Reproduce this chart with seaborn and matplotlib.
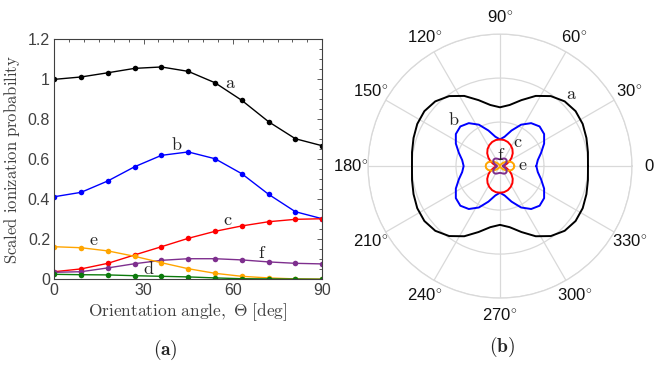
import numpy as np
import pandas as pd
import matplotlib
matplotlib.use("Agg")
import matplotlib.pyplot as plt
import seaborn as sns
from matplotlib.ticker import MultipleLocator, FuncFormatter

# ---------------- data ----------------
theta_deg = [0, 9, 18, 27, 36, 45, 54, 63, 72, 81, 90]
series_names = ["a", "b", "c", "d", "e", "f"]
a_vals = [1.000, 1.012, 1.033, 1.055, 1.062, 1.040, 0.983, 0.895, 0.788, 0.703, 0.668]
b_vals = [0.413, 0.435, 0.492, 0.563, 0.620, 0.637, 0.603, 0.528, 0.425, 0.338, 0.303]
c_vals = [0.038, 0.052, 0.080, 0.122, 0.163, 0.205, 0.240, 0.267, 0.288, 0.300, 0.303]
d_vals = [0.025, 0.023, 0.022, 0.018, 0.015, 0.012, 0.007, 0.003, 0.002, 0.001, 0.000]
e_vals = [0.163, 0.158, 0.142, 0.115, 0.083, 0.053, 0.030, 0.015, 0.007, 0.002, 0.001]
f_vals = [0.035, 0.038, 0.057, 0.078, 0.095, 0.103, 0.103, 0.097, 0.087, 0.080, 0.077]
colors = {"a": "#000000", "b": "#0000ff", "c": "#ff0000", "d": "#0b7a0b",
          "e": "#ffa500", "f": "#7e2f8e"}
y_ticks = [0, 0.2, 0.4, 0.6, 0.8, 1.0, 1.2]
x_ticks = [0, 30, 60, 90]
polar_angles = [0, 30, 60, 90, 120, 150, 180, 210, 240, 270, 300, 330]
polar_rings = [0.5, 1.0, 1.5]
polar_series = ["a", "b", "c", "e", "f"]

values = {"a": a_vals, "b": b_vals, "c": c_vals, "d": d_vals, "e": e_vals, "f": f_vals}

# long table for the Cartesian panel
rows = []
for s in series_names:
    for t, v in zip(theta_deg, values[s]):
        rows.append({"series": s, "theta": t, "p": v})
df = pd.DataFrame(rows)

# polar table: mirror the 0-90 deg data onto the full circle (symmetry)
prow = []
for s in polar_series:
    vals = values[s]
    for k in range(0, 41):
        phi = 9 * k
        m = phi % 180
        idx = (m if m <= 90 else 180 - m) // 9
        prow.append({"series": s, "phi": np.deg2rad(phi), "r": vals[idx]})
dfp = pd.DataFrame(prow)

# ---------------- style ----------------
sns.set_style("white")
plt.rcParams["font.family"] = ["Liberation Sans", "DejaVu Sans"]
plt.rcParams["mathtext.fontset"] = "cm"

fig = plt.figure(figsize=(6.57, 3.68), dpi=100)

# ---------------- panel (a) ----------------
ax = fig.add_axes([0.0826, 0.241, 0.4078, 0.652])
order = ["a", "b", "c", "f", "e", "d"]
sns.lineplot(data=df, x="theta", y="p", hue="series", hue_order=order,
             palette=colors, marker="o", markersize=4.0, markeredgewidth=0,
             linewidth=1.0, estimator=None, legend=False, ax=ax)
ax.set_xlim(0, 90)
ax.set_ylim(0, 1.2)
ax.set_xticks(x_ticks)
ax.set_yticks(y_ticks)
ax.xaxis.set_minor_locator(MultipleLocator(5))
ax.yaxis.set_minor_locator(MultipleLocator(0.05))
ax.yaxis.set_major_formatter(FuncFormatter(lambda v, p: "%g" % v))
ax.tick_params(which="both", direction="in", top=True, right=True,
               colors="#404040", labelsize=11.5, width=0.6)
ax.tick_params(which="major", length=3.5)
ax.tick_params(which="minor", length=2)
ax.tick_params(axis="x", pad=3)
ax.tick_params(axis="y", pad=3)
for sp in ax.spines.values():
    sp.set_color("#404040")
    sp.set_linewidth(0.8)
ax.set_xlabel(r"$\mathrm{Orientation\ angle,\ \Theta\ [deg]}$", fontsize=12.5,
              color="#404040", labelpad=2)
ax.set_ylabel(r"$\mathrm{Scaled\ ionization\ probability}$", fontsize=12,
              color="#404040", labelpad=4)

lab_pos = {"a": (59.3, 0.98), "b": (41.1, 0.67), "c": (58.2, 0.293),
           "d": (31.7, 0.05), "e": (13.3, 0.193), "f": (69.9, 0.127)}
for s, (x, y) in lab_pos.items():
    ax.text(x, y, r"$\mathrm{%s}$" % s, fontsize=13, ha="center", va="center", color="#222222")

fig.text(0.252, 0.049, r"$\mathbf{(a)}$", fontsize=14, ha="center", va="center")

# ---------------- panel (b) ----------------
axp = fig.add_axes([0.5601, 0.190, 0.4018, 0.7174], projection="polar")
sns.lineplot(data=dfp, x="phi", y="r", hue="series", hue_order=polar_series,
             palette=colors, sort=False, estimator=None, linewidth=1.4,
             legend=False, ax=axp)
axp.set_xlabel("")
axp.set_ylabel("")
axp.set_ylim(0, 1.5)
axp.set_rticks(polar_rings)
axp.set_yticklabels([])
labels = [("%d" % a) if a == 0 else ("%d$^{\\circ}$" % a) for a in polar_angles]
axp.set_thetagrids(polar_angles, labels)
axp.tick_params(axis="x", pad=2, labelsize=12, colors="#111111")
axp.grid(True, color="#d9d9d9", linewidth=0.9)
axp.spines["polar"].set_color("#d9d9d9")
axp.spines["polar"].set_linewidth(0.9)

plab = {"a": (45, 1.15), "b": (135.8, 0.74), "c": (52.5, 0.34),
        "f": (81, 0.124), "e": (1, 0.26)}
for s, (ang, r) in plab.items():
    axp.text(np.deg2rad(ang), r, r"$\mathrm{%s}$" % s, fontsize=13,
             ha="center", va="center", color="#222222")

fig.text(0.764, 0.058, r"$\mathbf{(b)}$", fontsize=14, ha="center", va="center")

fig.savefig("out.png", dpi=100)
